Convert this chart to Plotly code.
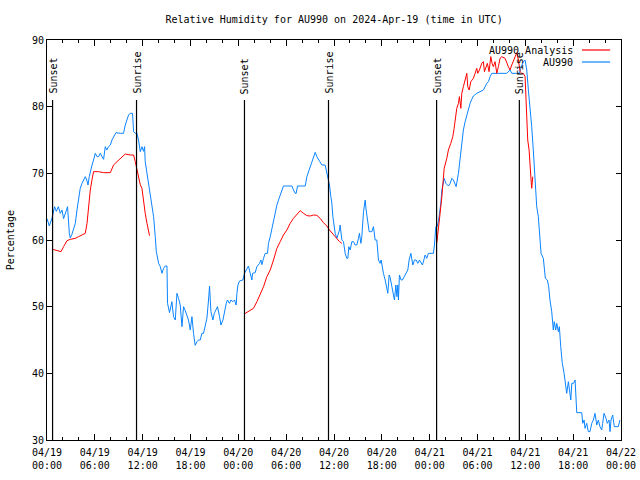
import pandas as pd
import plotly.graph_objects as go

BASE = "2024-04-19 00:00"
TITLE = "Relative Humidity for AU990 on 2024-Apr-19 (time in UTC)"
Y_LABEL = "Percentage"

# AU990 observations: hours since 2024-04-19 00:00 UTC, relative humidity (%)
obs_hours = [
    0.00, 0.29, 0.63, 0.95, 1.17, 1.42, 1.67, 1.88, 2.08, 2.29, 2.58, 2.80, 2.92, 3.11, 3.34, 3.55,
    3.76, 3.96, 4.17, 4.39, 4.59, 4.80, 4.99, 5.14, 5.30, 5.43, 5.64, 5.84, 6.06, 6.27, 6.47, 6.68,
    6.90, 7.10, 7.31, 7.50, 7.72, 7.94, 8.15, 8.35, 8.65, 9.19, 9.60, 9.82, 10.03, 10.23, 10.44, 10.73,
    10.86, 11.07, 11.28, 11.48, 11.70, 11.91, 12.11, 12.24, 12.32, 12.54, 12.74, 12.95, 13.16, 13.37,
    13.58, 13.71, 14.00, 14.21, 14.42, 14.62, 14.83, 15.05, 15.12, 15.37, 15.67, 15.87, 16.09, 16.30,
    16.50, 16.71, 16.93, 17.13, 17.34, 17.55, 17.75, 17.97, 18.18, 18.38, 18.59, 18.81, 19.01, 19.22,
    19.43, 19.63, 19.85, 20.06, 20.26, 20.39, 20.56, 20.81, 20.98, 21.23, 21.39, 21.64, 21.82, 22.07,
    22.27, 22.48, 22.64, 22.89, 23.07, 23.32, 23.52, 23.73, 23.82, 23.95, 24.15, 24.57, 24.77, 24.99,
    25.27, 25.49, 25.70, 25.78, 26.11, 26.33, 26.66, 26.83, 26.96, 27.16, 27.37, 27.66, 27.78, 28.00,
    28.21, 28.41, 28.62, 28.84, 29.04, 29.25, 29.46, 29.66, 30.09, 30.72, 30.92, 31.13, 31.26, 31.42,
    31.97, 32.39, 32.60, 32.80, 33.01, 33.22, 33.43, 33.64, 33.85, 34.05, 34.27, 34.48, 34.89, 35.02,
    35.18, 35.43, 35.61, 35.73, 35.86, 36.02, 36.15, 36.36, 36.56, 36.69, 36.77, 36.90, 36.99, 37.19,
    37.40, 37.61, 37.74, 37.86, 38.03, 38.24, 38.44, 38.65, 38.86, 39.07, 39.19, 39.37, 39.49, 39.70,
    39.91, 40.03, 40.20, 40.41, 40.75, 40.95, 41.16, 41.37, 41.58, 41.79, 41.91, 42.08, 42.20, 42.42,
    42.63, 42.75, 42.92, 43.04, 43.26, 43.46, 43.58, 43.76, 43.89, 44.01, 44.08, 44.21, 44.42, 44.58,
    44.83, 45.05, 45.26, 45.42, 45.64, 45.89, 46.09, 46.30, 46.51, 46.72, 46.93, 47.09, 47.27, 47.43,
    47.64, 47.84, 48.47, 48.60, 48.77, 48.93, 49.10, 49.27, 49.40, 49.53, 49.69, 49.82, 50.03, 50.36,
    50.57, 50.78, 50.98, 51.19, 51.32, 51.61, 51.82, 52.03, 52.23, 52.45, 52.66, 52.86, 53.07, 53.28,
    53.48, 53.91, 54.32, 54.74, 55.17, 55.37, 55.58, 55.79, 56.20, 56.83, 57.67, 58.08, 58.30, 58.71,
    59.25, 59.43, 59.55, 59.75, 59.97, 60.18, 60.38, 60.59, 60.80, 61.00, 61.13, 61.22, 61.43, 61.63,
    61.84, 61.97, 62.26, 62.38, 62.51, 62.76, 62.93, 63.09, 63.31, 63.51, 63.63, 63.81, 63.94, 64.14,
    64.27, 64.44, 64.64, 64.86, 65.07, 65.19, 65.40, 65.53, 65.70, 65.83, 66.03, 66.24, 66.45, 67.08,
    67.20, 67.37, 67.49, 67.70, 67.90, 68.11, 68.33, 68.53, 68.74, 68.96, 69.16, 69.36, 69.58, 69.70,
    69.87, 70.12, 70.28, 70.50, 70.62, 70.75, 70.96, 71.16, 71.66, 71.87,
]
obs_rh = [
    63.2, 62.1, 63.3, 65.0, 64.3, 65.0, 64.0, 64.5, 63.2, 64.0, 65.0, 61.0, 60.3, 60.8, 61.8, 62.5,
    64.5, 66.0, 67.75, 68.5, 69.0, 69.5, 69.0, 68.25, 69.5, 70.25, 71.2, 72.0, 73.0, 72.5, 72.5, 73.0,
    72.5, 72.1, 74.0, 73.5, 74.0, 74.25, 75.0, 75.5, 76.1, 76.0, 76.0, 77.25, 78.0, 78.75, 79.0, 79.0,
    76.25, 76.0, 76.0, 75.0, 73.25, 74.0, 73.3, 74.0, 71.75, 70.0, 68.0, 66.75, 65.0, 63.5,
    60.5, 58.25, 56.5, 56.0, 55.0, 55.75, 56.1, 56.1, 50.5, 49.1, 50.75, 48.5, 48.0, 52.0,
    51.25, 50.25, 47.0, 50.0, 49.4, 48.5, 48.0, 46.5, 48.5, 46.0, 44.2, 44.75, 45.0, 45.0,
    46.0, 46.0, 47.0, 48.25, 51.0, 53.1, 49.25, 48.0, 49.0, 49.75, 50.0, 48.5, 47.25, 48.0,
    49.5, 50.5, 51.0, 50.5, 51.0, 50.75, 51.0, 50.25, 52.0, 53.25, 53.85, 54.0, 55.0, 55.5,
    56.1, 55.0, 54.0, 55.0, 55.1, 56.0, 56.5, 57.0, 56.3, 57.25, 58.0, 58.0, 59.5, 60.5,
    61.75, 63.25, 64.5, 65.25, 66.0, 66.75, 67.25, 68.1, 68.1, 68.1, 67.5, 67.0, 67.0, 68.1,
    68.1, 68.1, 69.5, 70.25, 70.75, 71.75, 72.25, 73.15, 72.5, 72.1, 71.75, 71.25, 71.25, 70.5,
    69.5, 68.25, 66.5, 65.5, 63.5, 61.5, 61.0, 60.25, 61.0, 61.5, 62.25, 61.0, 60.0, 59.75,
    58.0, 57.25, 57.25, 59.0, 58.5, 59.75, 59.75, 59.25, 59.25, 60.25, 61.0, 59.5, 60.5, 64.25,
    66.0, 64.5, 63.0, 61.25, 61.25, 62.0, 60.0, 60.0, 57.0, 56.5, 57.0, 55.75, 55.0, 54.0,
    52.75, 52.0, 54.75, 54.4, 53.0, 51.75, 51.0, 53.25, 51.5, 53.25, 51.0, 54.75, 54.0, 54.0,
    54.5, 55.0, 55.5, 57.0, 58.0, 56.25, 57.0, 57.0, 56.5, 57.0, 56.5, 56.25, 57.0, 57.75,
    57.25, 58.0, 58.0, 59.25, 62.0, 62.0, 62.75, 64.0, 65.5, 67.5, 68.5, 69.25, 68.5, 68.1,
    68.5, 69.25, 69.0, 68.5, 68.0, 70.0, 72.5, 75.0, 76.5, 77.75, 78.75, 79.75, 80.5, 81.1,
    81.6, 82.0, 82.25, 82.5, 83.5, 83.75, 84.5, 85.0, 85.0, 85.0, 85.0, 85.5, 85.0, 85.0,
    85.0, 85.75, 86.25, 86.75, 87.0, 85.5, 82.5, 80.0, 77.0, 73.5, 70.5, 67.75, 65.0, 63.5,
    60.5, 58.0, 57.25, 56.0, 54.25, 54.0, 53.0, 51.0, 49.25, 46.5, 47.75, 46.5, 47.5, 46.25,
    47.0, 44.0, 41.5, 40.0, 38.25, 37.0, 38.75, 37.5, 36.0, 38.5, 38.5, 39.0, 34.1, 34.1,
    32.5, 33.0, 31.75, 32.5, 31.25, 31.25, 32.5, 33.0, 34.0, 32.25, 33.0, 32.0, 31.5, 32.5,
    34.0, 33.25, 32.5, 33.0, 31.25, 33.0, 33.75, 32.0, 32.0, 33.0,
]

# AU990 Analysis: three separate nightly segments (None = gap)
ana_hours = [
    0.70, 1.25, 1.76, 2.08, 2.51, 2.92, 3.55, 3.96, 4.39, 4.80, 5.02, 5.22, 5.43, 5.64, 5.84, 6.47,
    7.10, 7.94, 8.15, 8.35, 8.78, 9.19, 9.60, 9.82, 10.44, 10.86, 11.07, 11.28, 11.48, 11.70, 11.91,
    12.11, 12.32, 12.54, 12.74, 12.86,
    None,
    24.74, 25.27, 25.90, 26.33, 26.74, 27.16, 27.58, 28.00, 28.41, 28.84, 29.25, 29.66, 30.09, 30.50,
    30.92, 31.34, 31.76, 32.17, 32.60, 33.01, 33.43, 33.85, 34.27, 34.68, 35.10, 35.43, 35.86, 36.27,
    36.69, 36.99,
    None,
    48.90, 49.10, 49.31, 49.53, 49.65, 49.82, 50.15, 50.35, 50.65, 50.90, 51.07, 51.19, 51.40, 51.61,
    51.73, 51.91, 52.03, 52.23, 52.45, 52.66, 52.78, 52.95, 53.16, 53.48, 53.70, 53.91, 54.03, 54.24,
    54.54, 54.74, 54.87, 55.04, 55.24, 55.45, 55.67, 55.83, 55.99, 56.20, 56.42, 56.62, 56.83, 57.04,
    57.46, 57.87, 58.08, 58.30, 58.59, 58.80, 58.93, 59.13, 59.34, 59.55, 59.75, 59.97, 60.05, 60.18,
    60.30, 60.47, 60.59, 60.72, 60.80, 60.93,
]
ana_rh = [
    58.6, 58.4, 58.25, 59.0, 59.9, 60.1, 60.25, 60.5, 60.75, 61.0, 62.5, 65.0, 67.5, 69.0, 70.25, 70.25,
    70.1, 70.1, 70.75, 71.25, 71.75, 72.25, 72.75, 72.9, 72.75, 72.75, 71.75, 70.5, 69.25, 68.3, 67.75,
    65.5, 64.0, 62.5, 61.0, 60.65,
    None,
    48.9, 49.25, 49.75, 50.75, 51.75, 53.0, 54.5, 55.5, 57.0, 58.75, 59.75, 60.75, 61.5, 62.5,
    63.25, 63.75, 64.4, 64.0, 63.65, 63.6, 63.75, 63.7, 63.25, 62.6, 62.1, 61.5, 60.9, 60.4,
    59.75, 59.5,
    None,
    59.6, 62.3, 64.0, 66.5, 69.0, 70.75, 72.25, 73.5, 74.5, 75.5, 76.75, 78.0, 79.75, 80.5,
    81.5, 79.75, 82.0, 83.0, 84.0, 85.0, 83.0, 82.5, 83.75, 84.25, 85.0, 85.75, 85.0, 85.5,
    86.5, 86.75, 85.25, 86.0, 86.5, 85.25, 87.5, 86.5, 86.0, 86.75, 85.0, 86.0, 87.25, 87.5,
    87.25, 86.0, 85.5, 86.25, 87.25, 87.75, 88.1, 87.0, 85.25, 85.0, 85.0, 84.5, 82.5, 78.5,
    75.0, 73.5, 70.5, 69.0, 67.75, 69.5,
]

# Sun events (hours since 2024-04-19 00:00 UTC)
sun_hours = [0.70, 11.23, 24.77, 35.31, 48.87, 59.25]
sun_labels = ["Sunset", "Sunrise", "Sunset", "Sunrise", "Sunset", "Sunrise"]

tick_hours = [0, 6, 12, 18, 24, 30, 36, 42, 48, 54, 60, 66, 72]
tick_labels = [
    "04/19<br>00:00", "04/19<br>06:00", "04/19<br>12:00", "04/19<br>18:00",
    "04/20<br>00:00", "04/20<br>06:00", "04/20<br>12:00", "04/20<br>18:00",
    "04/21<br>00:00", "04/21<br>06:00", "04/21<br>12:00", "04/21<br>18:00",
    "04/22<br>00:00",
]

series_names = ["AU990 Analysis", "AU990"]
series_colors = ["#ff0000", "#0a84ff"]

base = pd.Timestamp(BASE)


def to_time(hours):
    return [None if h is None else base + pd.Timedelta(hours=h) for h in hours]


FONT = "DejaVu Sans Mono"

fig = go.Figure()
fig.add_trace(go.Scatter(x=to_time(obs_hours), y=obs_rh, mode="lines", name=series_names[1],
                         line=dict(color=series_colors[1], width=1), connectgaps=False))
fig.add_trace(go.Scatter(x=to_time(ana_hours), y=ana_rh, mode="lines", name=series_names[0],
                         line=dict(color=series_colors[0], width=1), connectgaps=False))

shapes = []
annotations = []
for h, lab in zip(sun_hours, sun_labels):
    t = base + pd.Timedelta(hours=h)
    shapes.append(dict(type="line", xref="x", yref="paper", x0=t, x1=t, y0=0, y1=0.85,
                       line=dict(color="black", width=1.2)))
    annotations.append(dict(x=t, xref="x", y=0.86, yref="paper", text=lab, textangle=-90,
                            showarrow=False, xanchor="center", yanchor="bottom",
                            font=dict(family=FONT, size=10, color="black")))

# gnuplot-style key: text right-aligned, sample line on the right
key_rows = [0.975, 0.945]
for name, color, yk in zip(series_names, series_colors, key_rows):
    annotations.append(dict(x=0.919, xref="paper", y=yk, yref="paper", text=name, showarrow=False,
                            xanchor="right", yanchor="middle",
                            font=dict(family=FONT, size=10, color="black")))
    shapes.append(dict(type="line", xref="paper", yref="paper", x0=0.932, x1=0.981, y0=yk, y1=yk,
                       line=dict(color=color, width=1.2)))

annotations.append(dict(x=-0.064, xref="paper", y=0.5, yref="paper", text=Y_LABEL, textangle=-90,
                        showarrow=False, xanchor="center", yanchor="middle",
                        font=dict(family=FONT, size=10, color="black")))

fig.update_layout(
    width=640, height=480, autosize=False,
    margin=dict(l=47, r=19, t=40, b=40, autoexpand=False),
    paper_bgcolor="white", plot_bgcolor="white",
    showlegend=False,
    title=dict(text=TITLE, x=0.522, xanchor="center", y=1 - 19 / 480, yanchor="middle",
               font=dict(family=FONT, size=10, color="black")),
    font=dict(family=FONT, size=10, color="black"),
    shapes=shapes, annotations=annotations,
)
fig.update_xaxes(
    type="date", automargin=False,
    range=[base, base + pd.Timedelta(hours=72)],
    tickvals=to_time(tick_hours), ticktext=tick_labels,
    ticks="inside", ticklen=6, tickcolor="black", tickwidth=1,
    ticklabelstandoff=3,
    showline=True, linecolor="black", linewidth=1, mirror="allticks",
    showgrid=False, zeroline=False,
    minor=dict(dtick=2 * 3600 * 1000, tick0=base, ticks="inside", ticklen=3,
               tickcolor="black", showgrid=False),
    tickfont=dict(family=FONT, size=10, color="black"),
)
fig.update_yaxes(
    range=[30, 90], dtick=10, tick0=30, automargin=False,
    ticks="inside", ticklen=5, tickcolor="black", tickwidth=1,
    showline=True, linecolor="black", linewidth=1, mirror="allticks",
    showgrid=False, zeroline=False,
    tickfont=dict(family=FONT, size=10, color="black"),
)

fig.write_html(
    "out.html",
    config={"displayModeBar": False},
    post_script="document.body.style.margin='0';document.body.style.padding='0';",
)
